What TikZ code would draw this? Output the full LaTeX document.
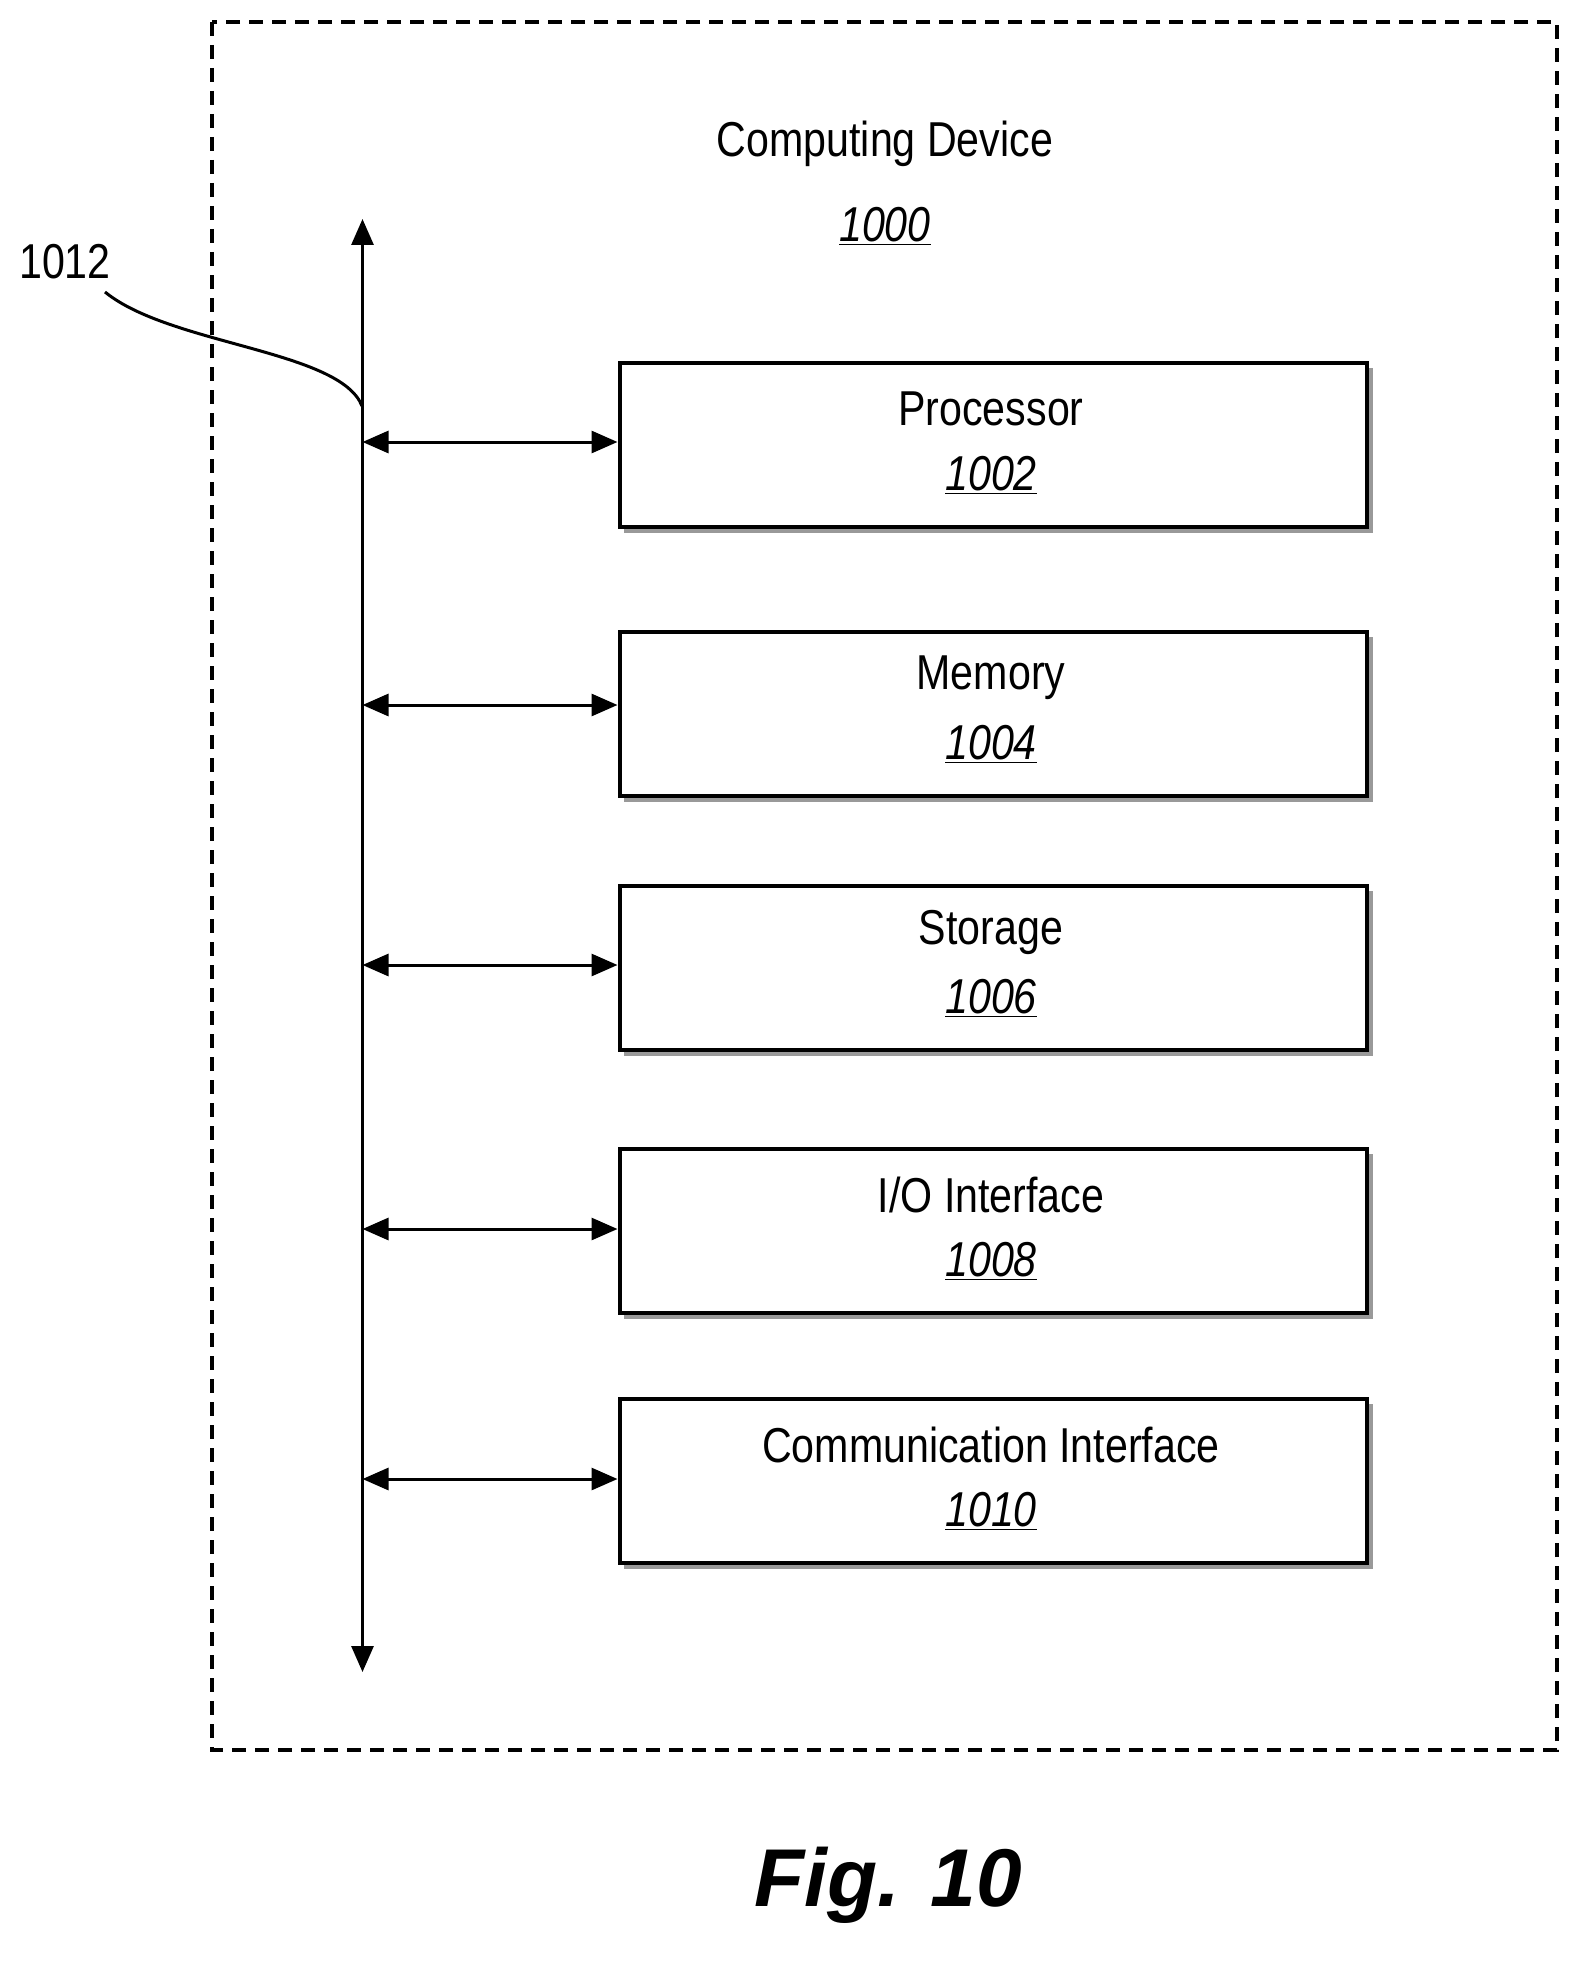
\documentclass[tikz,border=0pt]{standalone}
\usetikzlibrary{arrows.meta}
\usepackage{fontspec}
\setmainfont{Liberation Sans}[FakeStretch=0.84]
\newfontfamily\figfont{Liberation Sans}
\begin{document}
\begin{tikzpicture}[x=1pt,y=-1pt,
  box/.style={draw,line width=4pt,minimum width=747pt,minimum height=164pt,anchor=north west,fill=white},
  lbl/.style={font=\fontsize{49}{52}\selectfont},
  arr/.style={line width=3pt,{Triangle[length=26pt,width=22pt]}-{Triangle[length=26pt,width=22pt]}}]
\useasboundingbox (0,0) rectangle (1587,1969);
\draw[line width=3.5pt,dash pattern=on 14pt off 9pt] (212,22) rectangle (1557,1750);
\node[lbl] (title) at (885,144) {Computing Device};
\node[lbl] (num) at (885,226) {\underline{\textit{1000}}};
\coordinate (bt) at (362.5,219);
\coordinate (bb) at (362.5,1672);
\draw[arr] (bt) -- (bb);
\foreach \n/\y/\t/\k/\a in {p/361/Processor/1002/442, m/630/Memory/1004/705, s/884/Storage/1006/965, io/1147/I\slash O Interface/1008/1229, c/1397/Communication Interface/1010/1479}{
  \fill[gray!80] (624,\y+7) rectangle (1373,\y+172);
  \node[box] (\n) at (617.5,\y) {};
  \node[lbl] (\n t) at (991,\y+48) {\t};
  \node[lbl] (\n k) at (991,\y+114) {\underline{\textit{\k}}};
  \coordinate (\n b) at (362.5,\a);
  \draw[arr] (\n b) -- (\n.west |- \n b);
}
\node[lbl] (l1012) at (65,262) {1012};
\coordinate (ls) at (105,292);
\coordinate (le) at (362,406);
\draw[line width=3pt] (ls) .. controls (170,345) and (340,350) .. (le);
\node[font=\figfont\bfseries\itshape\fontsize{82}{86}\selectfont] (fig) at (888,1885) {Fig. 10};
\end{tikzpicture}
\end{document}
